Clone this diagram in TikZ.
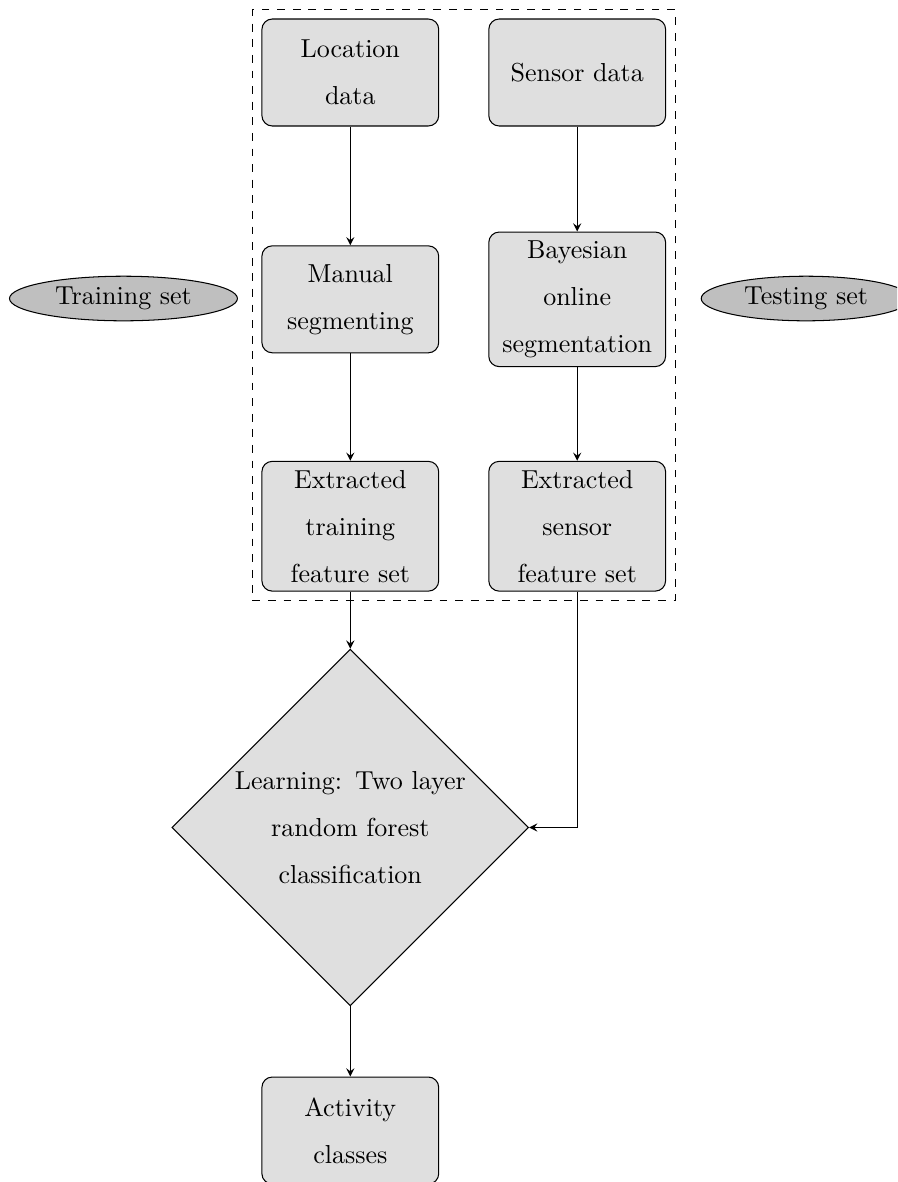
\documentclass[tikz,border=0pt]{standalone}
\usepackage{tikz}
\usetikzlibrary{arrows.meta,positioning,shapes.geometric,fit}

\begin{document}
\begin{tikzpicture}[font={\fontsize{10}{18.1}\selectfont},
  stepbox/.style={draw,fill=gray!25,rounded corners,minimum width=2.39cm,minimum height=1.446cm,text width=2.05cm,align=center},
  setnode/.style={draw,ellipse,fill=gray!50,inner xsep=4.7pt,inner ysep=1.65pt},
  learnbox/.style={draw,diamond,fill=gray!25,text width=3.3cm,align=center,inner sep=0pt,minimum width=4.77cm,minimum height=4.75cm},
  arr/.style={-stealth}]
  \clip (0,0) rectangle (12.125,-15.977);
  \node[stepbox] (loc) at (4.735,-0.98) {Location data};
  \node[stepbox] (sens) at (7.802,-0.98) {Sensor data};
  \node[stepbox] (man) at (4.735,-4.046) {Manual segmenting};
  \node[stepbox] (bay) at (7.802,-4.046) {Bayesian online segmentation};
  \node[stepbox] (exttr) at (4.735,-7.113) {Extracted training feature set};
  \node[stepbox] (extse) at (7.802,-7.113) {Extracted sensor feature set};
  \node[draw,dashed,inner sep=3.46pt,fit=(loc)(sens)(exttr)(extse)] (grp) {};
  \node[setnode] (train) at (1.669,-4.035) {Training set};
  \node[setnode] (test) at (10.895,-4.035) {Testing set};
  \node[learnbox] (learn) at (4.735,-11.185) {Learning: Two layer\\random forest\\classification};
  \node[stepbox] (act) at (4.735,-15.281) {Activity classes};
  \draw[arr] (loc)--(man);
  \draw[arr] (man)--(exttr);
  \draw[arr] (sens)--(bay);
  \draw[arr] (bay)--(extse);
  \draw[arr] (exttr)--(learn);
  \draw[arr] (extse) |- (learn);
  \draw[arr] (learn)--(act);
\end{tikzpicture}
\end{document}
